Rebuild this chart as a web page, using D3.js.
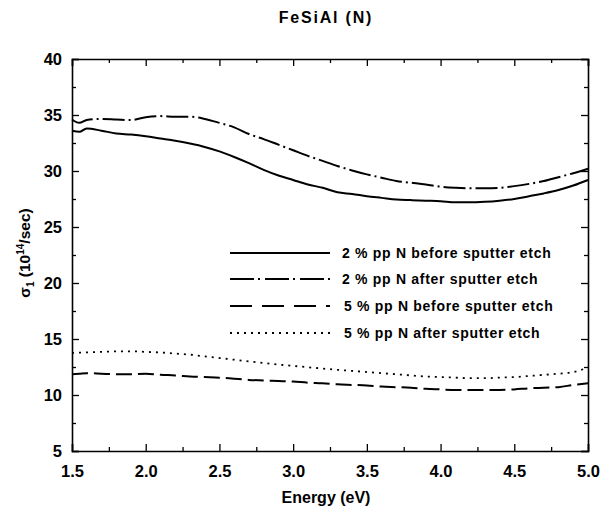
<!DOCTYPE html>
<html>
<head>
<meta charset="utf-8">
<script src="https://cdn.jsdelivr.net/npm/d3@7"></script>
<style>
  body { margin: 0; background: #fff; }
  svg text { font-family: "Liberation Sans", Arial, sans-serif; font-weight: bold; fill: #000; }
</style>
</head>
<body>
<svg id="chart" width="602" height="512"></svg>
<script>
// energy grid (eV)
const energy = [1.5, 1.55, 1.6, 1.7, 1.8, 1.9, 2.0, 2.1, 2.2, 2.3, 2.4, 2.5, 2.6, 2.7, 2.8, 2.9,
  3.0, 3.1, 3.2, 3.3, 3.4, 3.5, 3.6, 3.7, 3.8, 3.9, 4.0, 4.1, 4.2, 4.3, 4.4, 4.5, 4.6, 4.7, 4.8, 4.9, 5.0];

// sigma_1 values (10^14/sec)
const before2 = [33.6, 33.5, 33.8, 33.6, 33.35, 33.25, 33.1, 32.9, 32.7, 32.45, 32.15, 31.75, 31.25, 30.7, 30.1, 29.6,
  29.2, 28.8, 28.5, 28.1, 27.95, 27.75, 27.6, 27.45, 27.4, 27.35, 27.3, 27.2, 27.2, 27.25, 27.35, 27.5, 27.75, 28.0, 28.3, 28.7, 29.2];
const after2 = [34.6, 34.3, 34.55, 34.65, 34.6, 34.55, 34.8, 34.9, 34.85, 34.85, 34.65, 34.3, 33.9, 33.3, 32.85, 32.35,
  31.85, 31.35, 30.9, 30.45, 30.05, 29.7, 29.4, 29.1, 28.95, 28.8, 28.6, 28.5, 28.45, 28.45, 28.5, 28.65, 28.85, 29.1, 29.45, 29.8, 30.2];
const before5 = [11.85, 11.9, 11.95, 11.9, 11.85, 11.85, 11.9, 11.8, 11.75, 11.65, 11.6, 11.55, 11.45, 11.35, 11.3, 11.25,
  11.2, 11.1, 11.05, 10.95, 10.9, 10.85, 10.75, 10.7, 10.65, 10.55, 10.5, 10.45, 10.45, 10.45, 10.45, 10.5, 10.6, 10.65, 10.7, 10.9, 11.05];
const after5 = [13.75, 13.78, 13.8, 13.85, 13.9, 13.9, 13.85, 13.8, 13.7, 13.6, 13.45, 13.3, 13.15, 13.0, 12.85, 12.72,
  12.6, 12.48, 12.36, 12.25, 12.15, 12.05, 11.95, 11.85, 11.75, 11.65, 11.6, 11.55, 11.5, 11.5, 11.55, 11.6, 11.7, 11.8, 11.9, 12.05, 12.45];

const seriesNames = ["2 % pp N before sputter etch", "2 % pp N after sputter etch",
  "5 % pp N before sputter etch", "5 % pp N after sputter etch"];
const seriesValues = [before2, after2, before5, after5];
const dashes = [null, "22,4,2,4", "16,6", "2,5"];
const legendDashes = [null, "24,4,2,5", "22,10", "2,5"];

const xTicks = [1.5, 2.0, 2.5, 3.0, 3.5, 4.0, 4.5, 5.0];
const xMinor = [1.75, 2.25, 2.75, 3.25, 3.75, 4.25, 4.75];
const yTicks = [5, 10, 15, 20, 25, 30, 35, 40];
const yMinor = [7.5, 12.5, 17.5, 22.5, 27.5, 32.5, 37.5];

const svg = d3.select("#chart");
const plotLeft = 72, plotRight = 588, plotTop = 59, plotBottom = 451;

const x = d3.scaleLinear().domain([1.5, 5.0]).range([plotLeft, plotRight]);
const y = d3.scaleLinear().domain([5, 40]).range([plotBottom, plotTop]);

// title
svg.append("text")
  .attr("x", 326).attr("y", 23)
  .attr("text-anchor", "middle")
  .style("font-size", "16px")
  .style("letter-spacing", "1.8px")
  .text("FeSiAl (N)");

// axes, ticks point inward
function styleAxis(g) {
  g.select(".domain").attr("stroke", "#000").attr("stroke-width", 1.6);
  g.selectAll(".tick line").attr("stroke", "#000").attr("stroke-width", 1.3);
}

svg.append("g").attr("transform", "translate(0," + plotBottom + ")")
  .call(d3.axisBottom(x).tickValues(xTicks).tickSize(-7).tickPadding(14).tickFormat(d3.format(".1f")))
  .call(styleAxis)
  .call(g => g.selectAll("text").style("font-size", "16.5px").attr("font-family", null));
svg.append("g").attr("transform", "translate(0," + plotBottom + ")")
  .call(d3.axisBottom(x).tickValues(xMinor).tickSize(-4).tickFormat(""))
  .call(styleAxis).call(g => g.select(".domain").remove());

svg.append("g").attr("transform", "translate(0," + plotTop + ")")
  .call(d3.axisTop(x).tickValues(xTicks).tickSize(-7).tickFormat(""))
  .call(styleAxis);
svg.append("g").attr("transform", "translate(0," + plotTop + ")")
  .call(d3.axisTop(x).tickValues(xMinor).tickSize(-4).tickFormat(""))
  .call(styleAxis).call(g => g.select(".domain").remove());

svg.append("g").attr("transform", "translate(" + plotLeft + ",0)")
  .call(d3.axisLeft(y).tickValues(yTicks).tickSize(-7).tickPadding(10))
  .call(styleAxis)
  .call(g => g.selectAll("text").style("font-size", "16.5px").attr("font-family", null));
svg.append("g").attr("transform", "translate(" + plotLeft + ",0)")
  .call(d3.axisLeft(y).tickValues(yMinor).tickSize(-4).tickFormat(""))
  .call(styleAxis).call(g => g.select(".domain").remove());

svg.append("g").attr("transform", "translate(" + plotRight + ",0)")
  .call(d3.axisRight(y).tickValues(yTicks).tickSize(-7).tickFormat(""))
  .call(styleAxis);
svg.append("g").attr("transform", "translate(" + plotRight + ",0)")
  .call(d3.axisRight(y).tickValues(yMinor).tickSize(-4).tickFormat(""))
  .call(styleAxis).call(g => g.select(".domain").remove());

// axis labels
svg.append("text")
  .attr("x", 326).attr("y", 503)
  .attr("text-anchor", "middle")
  .style("font-size", "16px")
  .text("Energy (eV)");

const yl = svg.append("text")
  .attr("transform", "translate(30,253) rotate(-90)")
  .attr("text-anchor", "middle")
  .style("font-size", "15.5px");
yl.append("tspan").text("σ");
yl.append("tspan").attr("dy", 4).style("font-size", "10px").text("1");
yl.append("tspan").attr("dy", -4).text(" (10");
yl.append("tspan").attr("dy", -6).style("font-size", "10px").text("14");
yl.append("tspan").attr("dy", 6).text("/sec)");

// curves
const line = d3.line()
  .x((d, i) => x(energy[i]))
  .y(d => y(d))
  .curve(d3.curveMonotoneX);

seriesValues.forEach((vals, i) => {
  svg.append("path")
    .datum(vals)
    .attr("fill", "none")
    .attr("stroke", "#000")
    .attr("stroke-width", i === 3 ? 1.8 : 2)
    .attr("stroke-dasharray", dashes[i])
    .attr("d", line);
});

// legend
const legendY = [253, 279, 306, 333];
seriesNames.forEach((name, i) => {
  svg.append("line")
    .attr("x1", 230).attr("x2", 330)
    .attr("y1", legendY[i]).attr("y2", legendY[i])
    .attr("stroke", "#000")
    .attr("stroke-width", i === 3 ? 1.8 : 2)
    .attr("stroke-dasharray", legendDashes[i]);
  svg.append("text")
    .attr("x", i < 2 ? 342 : 344).attr("y", legendY[i] + 5)
    .style("font-size", "14px")
    .style("letter-spacing", "0.7px")
    .text(name);
});
</script>
</body>
</html>
